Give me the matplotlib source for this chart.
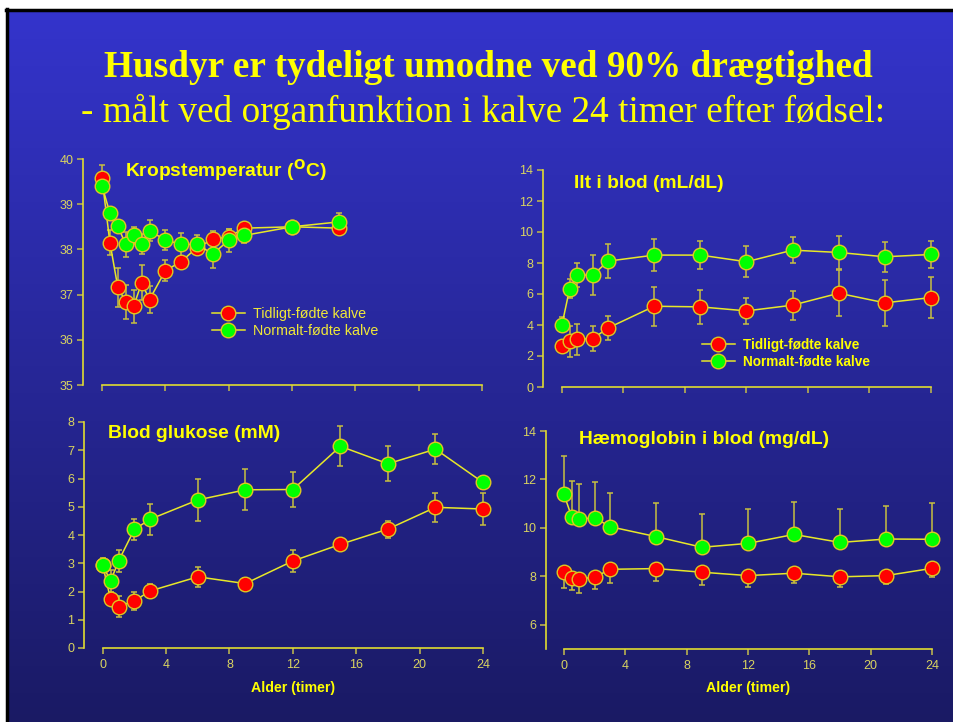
import numpy as np
import matplotlib
matplotlib.use("Agg")
import matplotlib.pyplot as plt
from matplotlib.lines import Line2D

# ---------------- data ----------------
t_temp = [0, 0.5, 1, 1.5, 2, 2.5, 3, 4, 5, 6, 7, 8, 9, 12, 15]
temp_early = [39.57, 38.15, 37.16, 36.84, 36.74, 37.26, 36.89, 37.53, 37.73, 38.04, 38.22, 38.28, 38.47, 38.50, 38.47]
temp_early_err = [0.30, 0.27, 0.43, 0.38, 0.37, 0.39, 0.30, 0.23, 0.10, 0.10, 0.19, 0.18, 0.08, 0.10, 0.10]
temp_norm = [39.41, 38.80, 38.51, 38.11, 38.31, 38.11, 38.41, 38.21, 38.11, 38.11, 37.90, 38.20, 38.31, 38.50, 38.61]
temp_norm_err = [0.15, 0.10, 0.13, 0.28, 0.19, 0.22, 0.23, 0.23, 0.26, 0.20, 0.32, 0.25, 0.16, 0.12, 0.20]

t_main = [0, 0.5, 1, 2, 3, 6, 9, 12, 15, 18, 21, 24]

o2_early = [2.63, 2.95, 3.08, 3.12, 3.81, 5.21, 5.17, 4.91, 5.28, 6.05, 5.43, 5.77]
o2_early_err = [0.32, 1.00, 1.00, 0.80, 0.75, 1.25, 1.08, 0.85, 0.93, 1.50, 1.50, 1.35]
o2_norm = [4.03, 6.35, 7.22, 7.22, 8.12, 8.51, 8.51, 8.08, 8.83, 8.68, 8.40, 8.55]
o2_norm_err = [0.50, 0.60, 0.75, 1.28, 1.10, 1.03, 0.90, 1.00, 0.86, 1.08, 0.97, 0.88]

glu_early = [2.93, 1.72, 1.46, 1.67, 2.02, 2.52, 2.28, 3.08, 3.67, 4.21, 4.98, 4.92]
glu_early_err = [0.24, 0.20, 0.38, 0.32, 0.26, 0.35, 0.20, 0.40, 0.20, 0.30, 0.52, 0.55]
glu_norm = [2.93, 2.37, 3.08, 4.20, 4.56, 5.24, 5.60, 5.61, 7.14, 6.52, 7.04, 5.86]
glu_norm_err = [0.20, 0.40, 0.40, 0.36, 0.55, 0.73, 0.73, 0.62, 0.71, 0.62, 0.53, 0.23]

hb_early = [8.17, 7.95, 7.90, 7.96, 8.29, 8.32, 8.17, 8.03, 8.13, 7.98, 8.03, 8.33]
hb_early_err_low = [0.66, 0.51, 0.57, 0.48, 0.55, 0.51, 0.52, 0.45, 0.41, 0.44, 0.35, 0.37]
hb_norm = [11.38, 10.46, 10.36, 10.42, 10.05, 9.64, 9.20, 9.36, 9.73, 9.40, 9.54, 9.53]
hb_norm_err_up = [1.59, 1.47, 1.45, 1.48, 1.41, 1.40, 1.36, 1.41, 1.34, 1.37, 1.37, 1.51]

x_ticks = [0, 4, 8, 12, 16, 20, 24]
label_early = "Tidligt-fødte kalve"
label_norm = "Normalt-fødte kalve"

main_title = "Husdyr er tydeligt umodne ved 90% drægtighed"
sub_title = "- målt ved organfunktion i kalve 24 timer efter fødsel:"
xlabel = "Alder (timer)"

# ---------------- style ----------------
W, H = 954, 722
YELLOW = "#ffff00"
LINE = "#e8e828"
SPINE = "#e0dc30"
TICK = "#b8b050"
TICKLBL = "#dad460"
ERR = "#c8c040"
RED = "#ff0000"
GREEN = "#00ff00"
MEC = "#e0c820"
PANEL_FS = 13.9

fig = plt.figure(figsize=(W / 100, H / 100), dpi=100)
fig.patch.set_facecolor("white")

# background gradient (slide)
bg = fig.add_axes([7 / W, 0, 1 - 7 / W, 1 - 10 / H])
bg.set_axis_off()
top = np.array([52, 52, 204]) / 255
bot = np.array([26, 26, 100]) / 255
g = np.linspace(0, 1, 256)[:, None]
grad = top[None, :] * (1 - g) + bot[None, :] * g
bg.imshow(grad[:, None, :].repeat(2, axis=1), aspect="auto", extent=[0, 1, 0, 1], interpolation="bilinear")
bg.set_xlim(0, 1)
bg.set_ylim(0, 1)
fig.add_artist(Line2D([7 / W, 7 / W], [0, 1 - 9 / H], color="black", lw=2.5))
fig.add_artist(Line2D([6 / W, 1], [1 - 10 / H, 1 - 10 / H], color="black", lw=2.5))

fig.text(488 / W, 1 - 77 / H, main_title, ha="center", va="baseline",
         family="Liberation Serif", weight="bold", fontsize=26.8, color=YELLOW)
fig.text(483 / W, 1 - 122 / H, sub_title, ha="center", va="baseline",
         family="Liberation Serif", fontsize=26.8, color=YELLOW)


def make_ax(spine_x, x0_px, x24_px, ytop_px, ybot_px, ylim, yticks, show_xlabels):
    per_h = (x24_px - x0_px) / 24.0
    xl = (spine_x - x0_px) / per_h
    xr = 24.6
    right_px = x0_px + xr * per_h
    ax = fig.add_axes([spine_x / W, 1 - ybot_px / H, (right_px - spine_x) / W, (ybot_px - ytop_px) / H])
    ax.patch.set_alpha(0)
    ax.set_xlim(xl, xr)
    ax.set_ylim(*ylim)
    for s in ["top", "right"]:
        ax.spines[s].set_visible(False)
    ax.spines["left"].set_color(SPINE)
    ax.spines["bottom"].set_color(SPINE)
    ax.spines["left"].set_linewidth(1.2)
    ax.spines["bottom"].set_linewidth(1.2)
    ax.spines["bottom"].set_bounds(0, 24)
    ax.set_xticks(x_ticks)
    ax.set_yticks(yticks)
    ax.tick_params(axis="both", direction="out", length=4, width=1.2, color=TICK,
                   labelcolor=TICKLBL, labelsize=9)
    ax.tick_params(axis="y", pad=3)
    ax.tick_params(axis="x", pad=4)
    if not show_xlabels:
        ax.set_xticklabels([])
    for lbl in ax.get_xticklabels() + ax.get_yticklabels():
        lbl.set_family("Liberation Sans")
    return ax


def series(ax, t, y, err, face):
    ax.errorbar(t, y, yerr=err, fmt="none", ecolor=ERR, elinewidth=1.1, capsize=2.5,
                capthick=1.1, zorder=2)
    ln, = ax.plot(t, y, "-", color=LINE, lw=1.1, marker="o", ms=10.5, mfc=face,
                  mec=MEC, mew=1.0, zorder=3)
    return ln


# Panel 1: body temperature
ax1 = make_ax(83, 102, 482, 159, 385, (35, 40), [35, 36, 37, 38, 39, 40], False)
l1 = series(ax1, t_temp, temp_early, temp_early_err, RED)
l2 = series(ax1, t_temp, temp_norm, temp_norm_err, GREEN)
fig.text(125 / W, 1 - 170 / H, r"Kropstemperatur ($^{\mathbf{O}}$C)", ha="left", va="center",
         family="Liberation Sans", weight="bold", fontsize=PANEL_FS, color=YELLOW)
leg1 = ax1.legend([l1, l2], [label_early, label_norm], loc="upper left",
                  bbox_to_anchor=(212 / W, 1 - 307 / H), bbox_transform=fig.transFigure,
                  frameon=False, borderpad=0, borderaxespad=0, numpoints=1,
                  handlelength=2.3, handletextpad=0.6, labelspacing=0.2,
                  prop={"family": "Liberation Sans", "size": 10.3})
for tx in leg1.get_texts():
    tx.set_color("#f0e838")

# Panel 2: oxygen
ax2 = make_ax(543, 562, 931, 170, 387, (0, 14), [0, 2, 4, 6, 8, 10, 12, 14], False)
m1 = series(ax2, t_main, o2_early, o2_early_err, RED)
m2 = series(ax2, t_main, o2_norm, o2_norm_err, GREEN)
fig.text(574 / W, 1 - 184 / H, "Ilt i blod (mL/dL)", ha="left", va="center",
         family="Liberation Sans", weight="bold", fontsize=PANEL_FS, color=YELLOW)
leg2 = ax2.legend([m1, m2], [label_early, label_norm], loc="upper left",
                  bbox_to_anchor=(702 / W, 1 - 338 / H), bbox_transform=fig.transFigure,
                  frameon=False, borderpad=0, borderaxespad=0, numpoints=1,
                  handlelength=2.4, handletextpad=0.6, labelspacing=0.22,
                  prop={"family": "Liberation Sans", "size": 9.8, "weight": "bold"})
for tx in leg2.get_texts():
    tx.set_color(YELLOW)

# Panel 3: glucose
ax3 = make_ax(84, 102.7, 483, 422, 648, (0, 8), [0, 1, 2, 3, 4, 5, 6, 7, 8], True)
series(ax3, t_main, glu_early, glu_early_err, RED)
series(ax3, t_main, glu_norm, glu_norm_err, GREEN)
fig.text(108 / W, 1 - 433 / H, "Blod glukose (mM)", ha="left", va="center",
         family="Liberation Sans", weight="bold", fontsize=PANEL_FS, color=YELLOW)
fig.text(293 / W, 1 - 688 / H, xlabel, ha="center", va="center",
         family="Liberation Sans", weight="bold", fontsize=10.2, color=YELLOW)

# Panel 4: haemoglobin
ax4 = make_ax(546, 564, 932, 431, 649, (5, 14), [6, 8, 10, 12, 14], True)
zeros = [0] * len(t_main)
series(ax4, t_main, hb_early, [hb_early_err_low, zeros], RED)
series(ax4, t_main, hb_norm, [zeros, hb_norm_err_up], GREEN)
fig.text(579 / W, 1 - 440 / H, "Hæmoglobin i blod (mg/dL)", ha="left", va="center",
         family="Liberation Sans", weight="bold", fontsize=PANEL_FS, color=YELLOW)
fig.text(748 / W, 1 - 688 / H, xlabel, ha="center", va="center",
         family="Liberation Sans", weight="bold", fontsize=10.2, color=YELLOW)

fig.savefig("out.png", dpi=100, facecolor=fig.get_facecolor())
